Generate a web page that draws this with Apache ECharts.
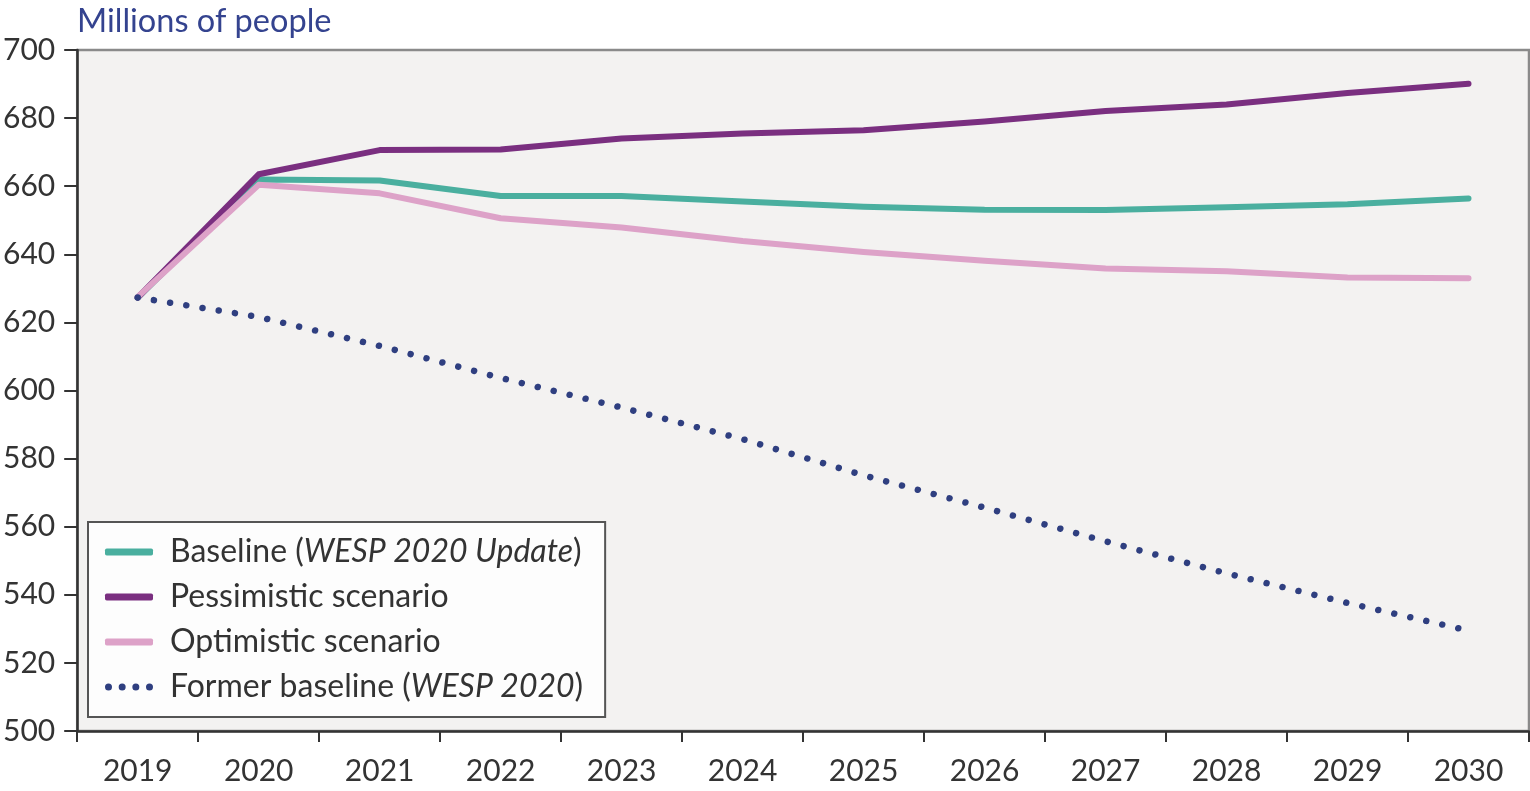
<!DOCTYPE html>
<html>
<head>
<meta charset="utf-8">
<script src="https://cdn.jsdelivr.net/npm/echarts@6/dist/echarts.min.js"></script>
<style>html,body{margin:0;padding:0;background:#fff;}#c{width:1530px;height:791px;}</style>
</head>
<body>
<div id="c"></div>
<script>
const years = ['2019','2020','2021','2022','2023','2024','2025','2026','2027','2028','2029','2030'];
const seriesNames = ['Baseline (WESP 2020 Update)','Pessimistic scenario','Optimistic scenario','Former baseline (WESP 2020)'];
const baseline    = [627.3, 662.0, 661.7, 657.1, 657.1, 655.5, 654.0, 653.1, 653.0, 653.8, 654.7, 656.4];
const pessimistic = [627.3, 663.5, 670.6, 670.8, 674.0, 675.5, 676.4, 679.0, 682.1, 684.0, 687.4, 690.1];
const optimistic  = [627.5, 660.4, 657.9, 650.6, 647.9, 643.9, 640.7, 638.1, 635.8, 635.0, 633.2, 633.0];
const former      = [627.3, 621.6, 613.1, 603.7, 595.0, 585.7, 575.1, 565.6, 555.7, 546.3, 537.6, 529.5];
const yTicks = [500, 520, 540, 560, 580, 600, 620, 640, 660, 680, 700];

const FONT = 'Lato';
const colors = ['#4aaf9f', '#7a2f80', '#dda2c8', '#2f3f80'];
const richFmt = {
  'Baseline (WESP 2020 Update)': '{n|Baseline (}{i|WESP 2020 Update}{n|)}',
  'Pessimistic scenario': '{n|Pessimistic scenario}',
  'Optimistic scenario': '{n|Optimistic scenario}',
  'Former baseline (WESP 2020)': '{n|Former baseline (}{i|WESP 2020}{n|)}'
};
const dotIcon = 'path://M0,3.5a3.5,3.5 0 1,0 7,0a3.5,3.5 0 1,0 -7,0M13.67,3.5a3.5,3.5 0 1,0 7,0a3.5,3.5 0 1,0 -7,0M27.33,3.5a3.5,3.5 0 1,0 7,0a3.5,3.5 0 1,0 -7,0M41,3.5a3.5,3.5 0 1,0 7,0a3.5,3.5 0 1,0 -7,0';

const chart = echarts.init(document.getElementById('c'));
const lineSeries = (name, data, color, extra) => Object.assign({
  name, type: 'line', data, color, symbol: 'none', smooth: false,
  lineStyle: { color, width: 6, cap: 'round', join: 'round' }
}, extra || {});

chart.setOption({
  animation: false,
  title: {
    text: 'Millions of people', left: 72, top: 0,
    textStyle: { fontFamily: FONT, fontSize: 32.5, fontWeight: 'normal', color: '#34438f' }
  },
  grid: {
    left: 76, top: 50, right: 1, bottom: 60, show: true,
    backgroundColor: '#f3f2f1', borderColor: '#8a8a8a', borderWidth: 2.5
  },
  legend: {
    orient: 'vertical', left: 88, top: 522,
    padding: [12, 22, 12, 17],
    itemGap: 9, itemWidth: 48, itemHeight: 7,
    backgroundColor: '#fdfdfd', borderColor: '#555', borderWidth: 2,
    data: [
      { name: seriesNames[0], icon: 'roundRect' },
      { name: seriesNames[1], icon: 'roundRect' },
      { name: seriesNames[2], icon: 'roundRect' },
      { name: seriesNames[3], icon: dotIcon }
    ],
    formatter: name => richFmt[name],
    textStyle: {
      fontFamily: FONT, fontSize: 32, color: '#333', lineHeight: 36, padding: [0, 0, 0, 12],
      rich: {
        n: { fontFamily: FONT, fontSize: 32, color: '#333', lineHeight: 36 },
        i: { fontFamily: FONT, fontSize: 32, color: '#333', lineHeight: 36, fontStyle: 'italic' }
      }
    }
  },
  xAxis: {
    type: 'category', data: years, boundaryGap: true,
    axisLine: { lineStyle: { color: '#333', width: 2.5 } },
    axisTick: { show: true, interval: 0, length: 11, lineStyle: { color: '#333', width: 2 } },
    axisLabel: { interval: 0, margin: 25, fontFamily: FONT, fontSize: 30, color: '#333' },
    splitLine: { show: false }
  },
  yAxis: {
    type: 'value', min: yTicks[0], max: yTicks[yTicks.length - 1], interval: 20,
    axisLine: { show: true, lineStyle: { color: '#333', width: 2.5 } },
    axisTick: { show: true, length: 13, lineStyle: { color: '#333', width: 2 } },
    axisLabel: { margin: 22, fontFamily: FONT, fontSize: 30, color: '#333' },
    splitLine: { show: false }
  },
  series: [
    lineSeries(seriesNames[0], baseline, colors[0]),
    lineSeries(seriesNames[1], pessimistic, colors[1]),
    lineSeries(seriesNames[2], optimistic, colors[2]),
    lineSeries(seriesNames[3], former, colors[3], {
      lineStyle: { color: colors[3], width: 6.5, type: [0.01, 16.4], cap: 'round' }
    })
  ]
});
</script>
</body>
</html>
